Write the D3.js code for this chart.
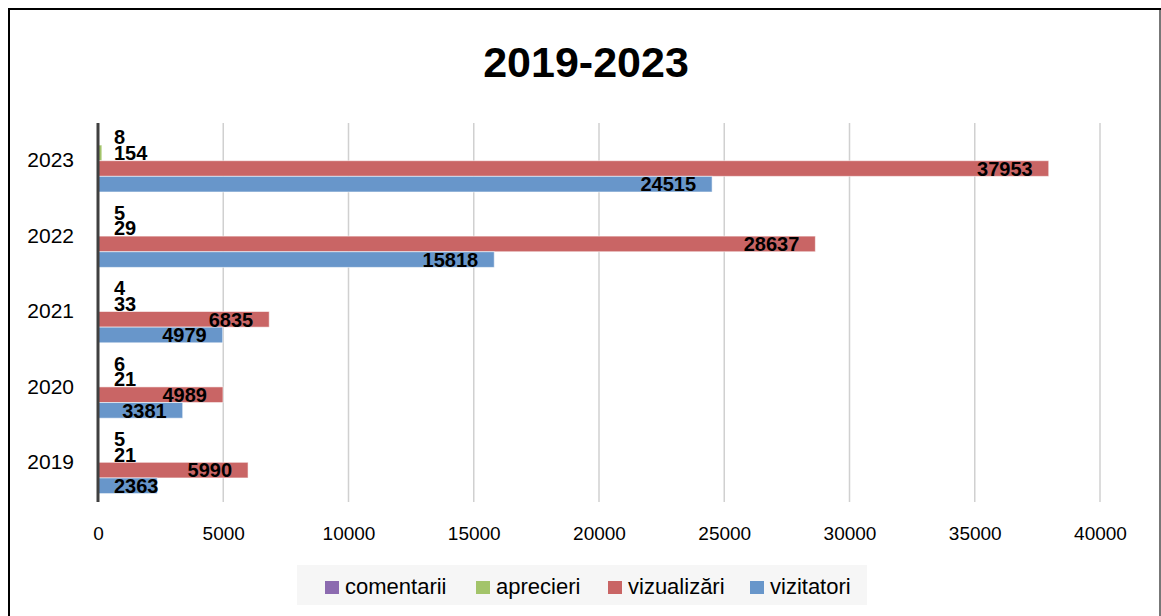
<!DOCTYPE html>
<html>
<head>
<meta charset="utf-8">
<script src="https://cdn.jsdelivr.net/npm/d3@7"></script>
<style>
  body { margin: 0; background: #fff; }
  text { font-family: "Liberation Sans", Arial, sans-serif; }
</style>
</head>
<body>
<div class="chart"></div>
<script>
// Data
var years = ["2023", "2022", "2021", "2020", "2019"];
var seriesNames = ["comentarii", "aprecieri", "vizualizări", "vizitatori"];
var comentarii = [8, 5, 4, 6, 5];
var aprecieri = [154, 29, 33, 21, 21];
var vizualizari = [37953, 28637, 6835, 4989, 5990];
var vizitatori = [24515, 15818, 4979, 3381, 2363];
var xTicks = [0, 5000, 10000, 15000, 20000, 25000, 30000, 35000, 40000];
var colors = ["#8c6bb0", "#a3c46a", "#c96565", "#6896ca"];

var svgWidth = 1161;
var svgHeight = 616;

var svg = d3.select(".chart")
  .append("svg")
  .attr("width", svgWidth)
  .attr("height", svgHeight);

// chart border
svg.append("rect")
  .attr("x", 9).attr("y", 9)
  .attr("width", 1151).attr("height", 620)
  .attr("fill", "#fff")
  .attr("stroke", "#000")
  .attr("stroke-width", 2);
svg.append("line")
  .attr("x1", 1160).attr("x2", 1160).attr("y1", 10).attr("y2", 616)
  .attr("stroke", "#777").attr("stroke-width", 2);

// title
svg.append("text")
  .attr("x", 586).attr("y", 77)
  .attr("text-anchor", "middle")
  .style("font-size", "43px")
  .style("font-weight", "bold")
  .text("2019-2023");

var plot = { left: 98, right: 1100, top: 123, bottom: 500 };

var xScale = d3.scaleLinear().domain([0, 40000]).range([plot.left, plot.right]);
var yScale = d3.scaleBand().domain(years).range([plot.top, plot.bottom]).paddingInner(0.17).paddingOuter(0.085);
var ySub = d3.scaleBand().domain(seriesNames).range([0, yScale.bandwidth()]);

// gridlines
svg.append("g")
  .selectAll("line")
  .data(xTicks.slice(1))
  .enter()
  .append("line")
  .attr("x1", function(d) { return xScale(d); })
  .attr("x2", function(d) { return xScale(d); })
  .attr("y1", plot.top)
  .attr("y2", plot.bottom + 2)
  .attr("stroke", "#d0d0d0")
  .attr("stroke-width", 1.5);

// x axis labels
var bottomAxis = d3.axisBottom(xScale).tickValues(xTicks).tickSize(0).tickPadding(0).tickFormat(d3.format("d"));
var xAxisG = svg.append("g")
  .attr("transform", "translate(0," + (plot.bottom + 26) + ")")
  .call(bottomAxis);
xAxisG.select(".domain").remove();
xAxisG.selectAll("text")
  .style("font-size", "19px")
  .attr("fill", "#000")
  .style("font-family", "'Liberation Sans', Arial, sans-serif");

// y axis labels
var leftAxis = d3.axisLeft(yScale).tickSize(0).tickPadding(24);
var yAxisG = svg.append("g")
  .attr("transform", "translate(" + plot.left + ",0)")
  .call(leftAxis);
yAxisG.select(".domain").remove();
yAxisG.selectAll("text")
  .style("font-size", "21px")
  .attr("fill", "#000")
  .style("font-family", "'Liberation Sans', Arial, sans-serif");

var allSeries = [comentarii, aprecieri, vizualizari, vizitatori];
var rows = [];
years.forEach(function(year, i) {
  seriesNames.forEach(function(name, j) {
    rows.push({ year: year, name: name, value: allSeries[j][i], color: colors[j] });
  });
});

// bars
svg.append("g")
  .selectAll("rect")
  .data(rows)
  .enter()
  .append("rect")
  .attr("x", xScale(0))
  .attr("y", function(d) { return yScale(d.year) + ySub(d.name); })
  .attr("width", function(d) { return xScale(d.value) - xScale(0); })
  .attr("height", ySub.bandwidth())
  .attr("fill", function(d) { return d.color; })
  .attr("stroke", "rgba(255,255,255,0.55)")
  .attr("stroke-width", 1);

// axis line
svg.append("line")
  .attr("x1", plot.left).attr("x2", plot.left)
  .attr("y1", plot.top).attr("y2", plot.bottom + 2)
  .attr("stroke", "#404040")
  .attr("stroke-width", 3);

// value labels: inside end, but never closer than 16px to the axis
svg.append("g")
  .selectAll("text")
  .data(rows)
  .enter()
  .append("text")
  .attr("y", function(d) { return yScale(d.year) + ySub(d.name) + ySub.bandwidth() / 2; })
  .attr("dy", "0.36em")
  .attr("text-anchor", "end")
  .style("font-size", "20px")
  .style("font-weight", "bold")
  .text(function(d) { return d.value; })
  .attr("x", function(d) {
    var w = this.getComputedTextLength();
    return Math.max(xScale(d.value) - 16, plot.left + 16 + w);
  });

// legend
var legend = svg.append("g");
legend.append("rect")
  .attr("x", 297).attr("y", 565)
  .attr("width", 570).attr("height", 40)
  .attr("fill", "#f6f6f6");
var legendX = [325, 476, 608, 750];
seriesNames.forEach(function(name, i) {
  legend.append("rect")
    .attr("x", legendX[i]).attr("y", 581)
    .attr("width", 14).attr("height", 13)
    .attr("fill", colors[i]);
  legend.append("text")
    .attr("x", legendX[i] + 20).attr("y", 594)
    .style("font-size", "22px")
    .text(name);
});
</script>
</body>
</html>
